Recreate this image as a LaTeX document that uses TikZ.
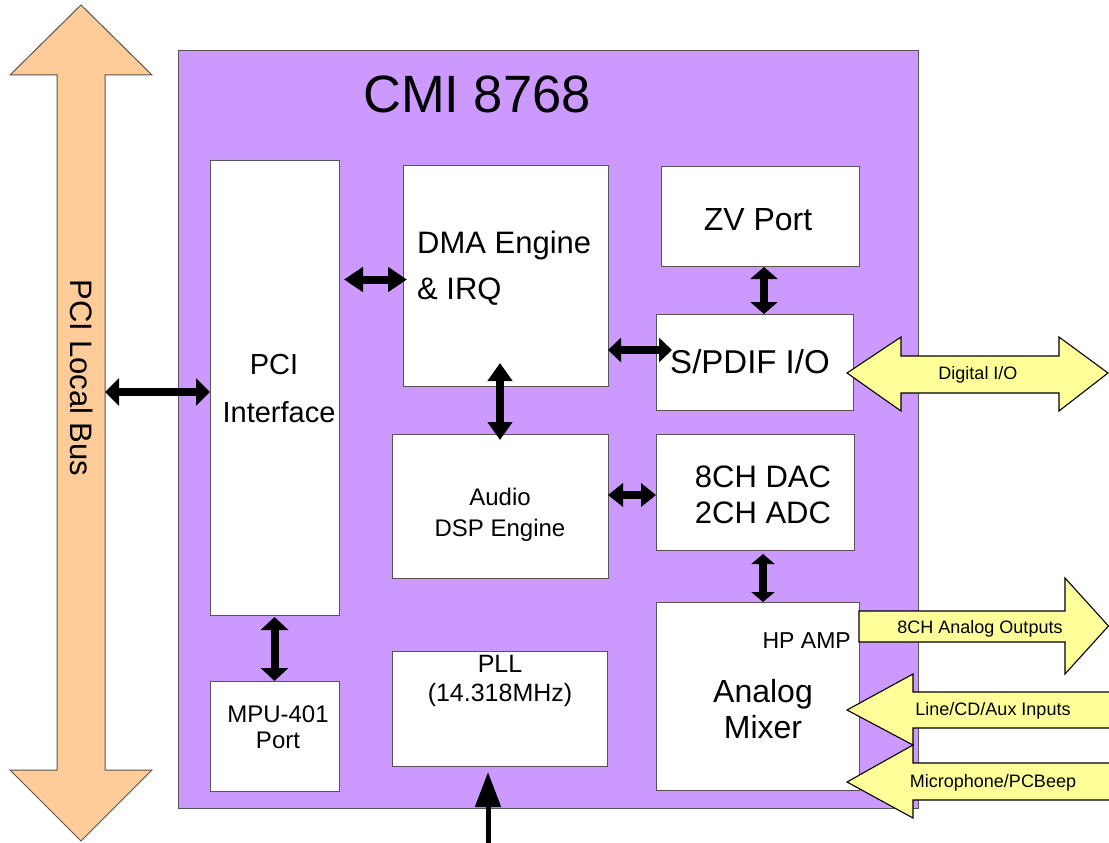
\documentclass[tikz,border=0pt]{standalone}
\usepackage{fontspec}
\setmainfont{Liberation Sans}
\usetikzlibrary{arrows.meta,calc}
\definecolor{chip}{HTML}{CC99FF}
\definecolor{bus}{HTML}{FFCC99}
\definecolor{sig}{HTML}{FFFF99}
\definecolor{edge}{HTML}{555555}
\begin{document}
\begin{tikzpicture}[x=1pt,y=-1pt,
  box/.style={draw=edge,line width=0.9pt,fill=white,inner sep=0pt,outer sep=0pt},
  fs/.style={font=\fontsize{#1}{#1}\selectfont,inner sep=0pt},
  dbla/.style n args={2}{line width=8pt,{Triangle[length=#1,width=#2]}-{Triangle[length=#1,width=#2]}},
  sigarrow/.style={fill=sig,draw=black,line width=1.1pt,line join=miter},
  busarrow/.style={fill=bus,draw=edge,line width=1pt,line join=miter}]
\useasboundingbox (0,0) rectangle (1109,843);
% PCI local bus
\draw[busarrow] (81,5) -- (152,75) -- (105,75) -- (105,770) -- (152,770) -- (81,841)
  -- (10,770) -- (57,770) -- (57,75) -- (10,75) -- cycle;
\node[fs=31,rotate=-90] (busT) at (82,378) {PCI Local Bus};
\coordinate (busR) at (105,392);
% chip
\node[box,draw=edge,fill=chip,minimum width=740pt,minimum height=758pt] (chipB) at (548,429) {};
\node[fs=52.5,anchor=base west] (chipT) at (363,113) {CMI 8768};
% blocks
\node[box,minimum width=129pt,minimum height=455pt] (pci) at (274.5,387.5) {};
\node[box,minimum width=129pt,minimum height=110pt] (mpu) at (274.5,736) {};
\node[box,minimum width=205pt,minimum height=221pt] (dma) at (505.5,275.5) {};
\node[box,minimum width=216pt,minimum height=144pt] (dsp) at (500,506) {};
\node[box,minimum width=215pt,minimum height=115pt] (pll) at (499.5,708.5) {};
\node[box,minimum width=198pt,minimum height=100pt] (zv) at (760,216) {};
\node[box,minimum width=197pt,minimum height=96pt] (spdif) at (754.5,362) {};
\node[box,minimum width=198pt,minimum height=116pt] (dac) at (755,492) {};
\node[box,minimum width=203pt,minimum height=188pt] (mixer) at (757.5,696) {};
% texts
\node[fs=29,anchor=base] (pciT1) at (274,374) {PCI};
\node[fs=29,anchor=base] (pciT2) at (279,422) {Interface};
\node[fs=24,anchor=base] (mpuT1) at (278,722) {MPU-401};
\node[fs=24,anchor=base] (mpuT2) at (278,748) {Port};
\node[fs=31,anchor=base west] (dmaT1) at (417,253) {DMA Engine};
\node[fs=31,anchor=base west] (dmaT2) at (417,299) {\& IRQ};
\node[fs=24,anchor=base] (dspT1) at (500,505) {Audio};
\node[fs=24,anchor=base] (dspT2) at (500,536) {DSP Engine};
\node[fs=25,anchor=base] (pllT1) at (500,672) {PLL};
\node[fs=25,anchor=base] (pllT2) at (500,701) {(14.318MHz)};
\node[fs=32,anchor=base] (zvT) at (758,230) {ZV Port};
\node[fs=33,anchor=base] (spdifT) at (750,373) {S/PDIF I/O};
\node[fs=31,anchor=base] (dacT1) at (763,487) {8CH DAC};
\node[fs=31,anchor=base] (dacT2) at (763,523) {2CH ADC};
\node[fs=23,anchor=base east] (hpT) at (851,648) {HP AMP};
\node[fs=32,anchor=base] (mixT1) at (763,702) {Analog};
\node[fs=32,anchor=base] (mixT2) at (763,738) {Mixer};
% black connectors
\draw[dbla={14pt}{27pt}] (busR) -- (busR -| pci.west);
\draw[dbla={19pt}{24pt}] ($(pci.east|-dma.west)+(5,4)$) -- ($(dma.west)+(4,4)$);
\draw[dbla={18pt}{24pt}] ($(dma.south)+(-5.5,-23)$) -- ($(dsp.north)+(0,6)$);
\draw[dbla={13pt}{24pt}] ($(dma.east|-spdif.west)+(0,-12)$) -- ($(spdif.west)+(16,-12)$);
\draw[dbla={15pt}{23pt}] ($(dsp.east|-dac.west)+(0,3)$) -- ($(dac.west)+(0,3)$);
\draw[dbla={12pt}{27pt}] ($(zv.south)+(4,1)$) -- ($(zv.south|-spdif.north)+(4,0)$);
\draw[dbla={10pt}{23pt}] ($(dac.south)+(8,4)$) -- ($(dac.south|-mixer.north)+(8,0)$);
\draw[dbla={13pt}{27pt}] ($(pci.south)+(0,2)$) -- (mpu.north);
\coordinate (clk) at (488,843);
\draw[line width=5pt,-{Triangle[length=35pt,width=25pt]}] (clk) -- ($(pll.south)+(-11.5,6)$);
% external signal arrows
\draw[sigarrow] (847,373) -- (901,337) -- (901,356) -- (1059,356) -- (1059,337) -- (1108,373)
  -- (1059,411) -- (1059,393) -- (901,393) -- (901,411) -- cycle;
\node[fs=18,anchor=base] (dioT) at (978,379) {Digital I/O};
\draw[sigarrow] (859,611) -- (1065,611) -- (1065,578) -- (1108.5,626) -- (1065,674) -- (1065,642) -- (859,642) -- cycle;
\node[fs=18,anchor=base] (aoT) at (980,633) {8CH Analog Outputs};
\draw[sigarrow] (847,710) -- (913,674) -- (913,692) -- (1115,692) -- (1115,728) -- (913,728) -- (913,745) -- cycle;
\node[fs=18,anchor=base] (liT) at (993,715) {Line/CD/Aux Inputs};
\draw[sigarrow] (847,782) -- (913,745) -- (913,763) -- (1115,763) -- (1115,800) -- (913,800) -- (913,818) -- cycle;
\node[fs=18,anchor=base] (micT) at (993,787) {Microphone/PCBeep};
\end{tikzpicture}
\end{document}
